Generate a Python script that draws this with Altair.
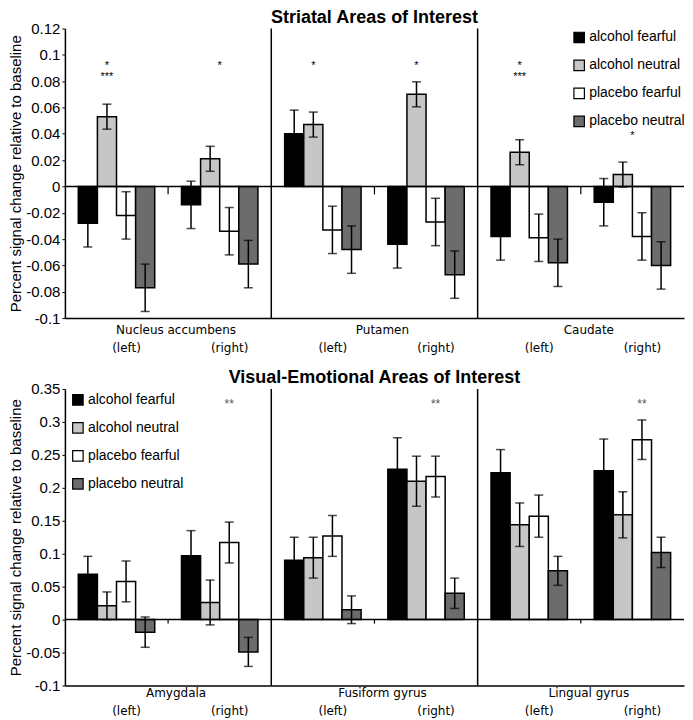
import altair as alt
import pandas as pd

conditions = ["alcohol fearful", "alcohol neutral", "placebo fearful", "placebo neutral"]
fills = ["#000000", "#c6c6c6", "#ffffff", "#6c6c6c"]
hemispheres = ["(left)", "(right)"]

# ---- Striatal panel ----
top_regions = ["Nucleus accumbens", "Putamen", "Caudate"]
top_means = [
    [-0.028, 0.053, -0.022, -0.077],   # NAcc left
    [-0.014, 0.021, -0.034, -0.059],   # NAcc right
    [0.040, 0.047, -0.033, -0.048],    # Putamen left
    [-0.044, 0.070, -0.027, -0.067],   # Putamen right
    [-0.038, 0.026, -0.039, -0.058],   # Caudate left
    [-0.012, 0.009, -0.038, -0.060],   # Caudate right
]
top_errs = [
    [0.018, 0.0095, 0.018, 0.018],
    [0.018, 0.0095, 0.018, 0.018],
    [0.018, 0.0095, 0.018, 0.018],
    [0.018, 0.0095, 0.018, 0.018],
    [0.018, 0.0095, 0.018, 0.018],
    [0.018, 0.0095, 0.018, 0.018],
]
top_ticks = [0.12, 0.1, 0.08, 0.06, 0.04, 0.02, 0, -0.02, -0.04, -0.06, -0.08, -0.1]
top_bar_stars_group = ["Nucleus accumbens (left)", "Nucleus accumbens (left)", "Putamen (left)",
                       "Putamen (right)", "Caudate (left)", "Caudate (left)"]
top_bar_stars_text = ["*", "***", "*", "*", "*", "***"]
top_bar_stars_y = [0.0915, 0.083, 0.0915, 0.0915, 0.0915, 0.083]
top_bar_stars_cond = ["alcohol neutral"] * 6
top_center_stars_group = ["Nucleus accumbens (right)", "Caudate (right)"]
top_center_stars_text = ["*", "*"]
top_center_stars_y = [0.0915, 0.038]

# ---- Visual-emotional panel ----
bot_regions = ["Amygdala", "Fusiform gyrus", "Lingual gyrus"]
bot_means = [
    [0.069, 0.021, 0.058, -0.019],   # Amygdala left
    [0.097, 0.026, 0.117, -0.049],   # Amygdala right
    [0.090, 0.094, 0.127, 0.015],    # Fusiform left
    [0.228, 0.210, 0.217, 0.040],    # Fusiform right
    [0.223, 0.144, 0.157, 0.074],    # Lingual left
    [0.226, 0.159, 0.273, 0.102],    # Lingual right
]
bot_errs = [
    [0.027, 0.021, 0.031, 0.023],
    [0.038, 0.034, 0.031, 0.022],
    [0.035, 0.031, 0.031, 0.021],
    [0.048, 0.038, 0.031, 0.023],
    [0.035, 0.033, 0.032, 0.022],
    [0.048, 0.035, 0.030, 0.023],
]
bot_ticks = [0.35, 0.3, 0.25, 0.2, 0.15, 0.1, 0.05, 0, -0.05, -0.1]
bot_bar_stars_group = ["Amygdala (right)", "Fusiform gyrus (right)", "Lingual gyrus (right)"]
bot_bar_stars_text = ["**", "**", "**"]
bot_bar_stars_y = [0.327, 0.327, 0.327]
bot_bar_stars_cond = ["placebo fearful"] * 3

YTITLE = "Percent signal change relative to baseline"
W = 620


def panel(title, regions, means, errs, ydom, yticks, zero_tick,
          bs_group, bs_text, bs_y, bs_cond, cs_group, cs_text, cs_y,
          star_color, star_size, legend_x, legend_y, height, reg_off, hemi_off, title_off):
    groups = [f"{r} {h}" for r in regions for h in hemispheres]
    rows = []
    for gi, g in enumerate(groups):
        for ci, c in enumerate(conditions):
            rows.append({"group": g, "cond": c, "value": means[gi][ci], "err": errs[gi][ci]})
    df = pd.DataFrame(rows)

    xscale = alt.Scale(domain=groups, paddingInner=0, paddingOuter=0)
    xaxis = alt.Axis(labels=False, ticks=False, title=None, domainColor="black",
                     domainWidth=1.5, grid=False)
    yscale = alt.Scale(domain=ydom, nice=False, zero=False)
    yaxis = alt.Axis(values=yticks, labelExpr="'' + datum.value", title=YTITLE,
                     grid=False, domainColor="black", domainWidth=1.5, tickColor="black",
                     tickSize=3, labelFont="Liberation Sans", labelFontSize=15,
                     labelColor="black", labelPadding=2, titleFont="Liberation Sans",
                     titleFontSize=15, titleFontWeight="normal", titleColor="black",
                     titlePadding=2)

    def X(**kw):
        return alt.X("group:N", scale=xscale, axis=xaxis, sort=groups, **kw)

    def Y(field=None, **kw):
        if field is None:
            return alt.Y(scale=yscale, axis=yaxis, type="quantitative", **kw)
        return alt.Y(field, type="quantitative", scale=yscale, axis=yaxis, **kw)

    xoff = alt.XOffset("cond:N", sort=conditions,
                       scale=alt.Scale(domain=conditions, paddingOuter=0.7, paddingInner=0))

    base = alt.Chart(df)
    bars = base.mark_bar(stroke="black", strokeWidth=1.5).encode(
        x=X(), xOffset=xoff, y=Y("value"),
        fill=alt.Fill("cond:N", sort=conditions,
                      scale=alt.Scale(domain=conditions, range=fills),
                      legend=alt.Legend(orient="none", legendX=legend_x, legendY=legend_y,
                                        title=None, symbolType="square", symbolSize=110,
                                        symbolStrokeColor="black", symbolStrokeWidth=1.2,
                                        labelFont="Liberation Sans", labelFontSize=14,
                                        labelColor="black", rowPadding=12, labelOffset=3,
                                        padding=0)),
    )
    with_bounds = base.transform_calculate(lo="datum.value - datum.err",
                                           hi="datum.value + datum.err")
    err_rule = with_bounds.mark_rule(color="black", strokeWidth=1.5).encode(
        x=X(), xOffset=xoff, y=Y("lo"), y2="hi:Q")
    cap_hi = with_bounds.mark_tick(color="black", thickness=1.5, size=9).encode(
        x=X(), xOffset=xoff, y=Y("hi"))
    cap_lo = with_bounds.mark_tick(color="black", thickness=1.5, size=9).encode(
        x=X(), xOffset=xoff, y=Y("lo"))

    zero = alt.Chart(pd.DataFrame({"z": [0]})).mark_rule(color="black", strokeWidth=1.5).encode(
        y=Y("z"))

    right_groups = [g for g in groups if g.endswith("(right)")]
    left_groups = [g for g in groups if g.endswith("(left)")]
    sep_df = pd.DataFrame({"group": left_groups[1:]})
    seps = alt.Chart(sep_df).mark_rule(color="black", strokeWidth=1.5).encode(
        x=X(bandPosition=0), y=Y(datum=ydom[1]), y2=alt.Y2(datum=ydom[0]))

    zt = alt.Chart(pd.DataFrame({"group": right_groups})).mark_rule(
        color="black", strokeWidth=1.2).encode(
        x=X(bandPosition=0), y=Y(datum=0), y2=alt.Y2(datum=zero_tick))

    bstars = alt.Chart(pd.DataFrame({"group": bs_group, "cond": bs_cond,
                                     "t": bs_text, "y": bs_y})).mark_text(
        font="Liberation Sans", fontSize=star_size, color=star_color, baseline="middle").encode(
        x=X(), xOffset=xoff, y=Y("y"), text="t:N")
    layers = [bars, err_rule, cap_hi, cap_lo, zero, seps, zt, bstars]
    if cs_group:
        cstars = alt.Chart(pd.DataFrame({"group": cs_group, "t": cs_text, "y": cs_y})).mark_text(
            font="Liberation Sans", fontSize=star_size, color=star_color, baseline="middle").encode(
            x=X(), y=Y("y"), text="t:N")
        layers.append(cstars)

    hemi_df = pd.DataFrame({"group": groups, "t": [g.split(" ")[-1] for g in groups]})
    hemi = alt.Chart(hemi_df).mark_text(font="DejaVu Sans", fontSize=12, color="black",
                                        baseline="middle", dx=10).encode(
        x=X(), y=alt.value(height + hemi_off), text="t:N")
    reg_df = pd.DataFrame({"group": right_groups, "t": regions})
    reg = alt.Chart(reg_df).mark_text(font="DejaVu Sans", fontSize=12, color="black",
                                      baseline="middle", dx=8).encode(
        x=X(bandPosition=0), y=alt.value(height + reg_off), text="t:N")
    layers += [hemi, reg]

    return alt.layer(*layers).properties(
        width=W, height=height,
        title=alt.TitleParams(title, font="Liberation Sans", fontSize=18, fontWeight="bold",
                              color="black", anchor="middle", frame="group", offset=title_off),
    )


top = panel("Striatal Areas of Interest", top_regions, top_means, top_errs,
            [-0.1, 0.12], top_ticks, -0.006,
            top_bar_stars_group, top_bar_stars_text, top_bar_stars_y, top_bar_stars_cond,
            top_center_stars_group, top_center_stars_text, top_center_stars_y,
            "black", 11, 508, 2, 290, 12, 30, -5)
bottom = panel("Visual-Emotional Areas of Interest", bot_regions, bot_means, bot_errs,
               [-0.1, 0.35], bot_ticks, -0.006,
               bot_bar_stars_group, bot_bar_stars_text, bot_bar_stars_y, bot_bar_stars_cond,
               [], [], [],
               "#555555", 12, 6, 4, 297, 7, 26, -5)

chart = alt.vconcat(top, bottom, spacing=15).resolve_scale(
    x="independent", y="independent", fill="independent", xOffset="independent"
).resolve_legend(fill="independent").properties(padding=0).configure_view(stroke=None)

chart.save("out.html", embed_options={"renderer": "svg", "actions": False})
